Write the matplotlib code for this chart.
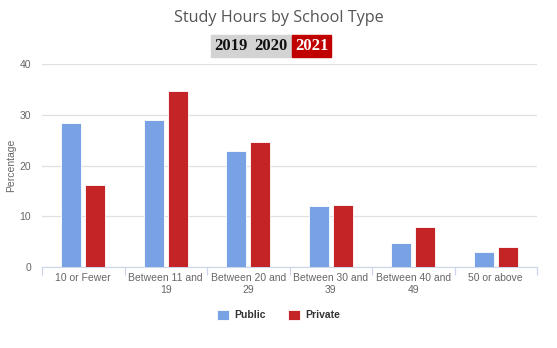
import numpy as np
import matplotlib
matplotlib.use("Agg")
from matplotlib import pyplot as plt
from matplotlib.patches import Rectangle

categories = ["10 or Fewer", "Between 11 and\n19", "Between 20 and\n29",
              "Between 30 and\n39", "Between 40 and\n49", "50 or above"]
public = [28.4, 28.9, 22.8, 12.0, 4.8, 2.9]
private = [16.2, 34.7, 24.6, 12.3, 7.8, 3.9]
years = ["2019", "2020", "2021"]
yticks = [0, 10, 20, 30, 40]

blue = "#78a2e3"
red = "#c42426"

plt.rcParams["font.family"] = ["Liberation Sans", "DejaVu Sans"]

fig = plt.figure(figsize=(5.57, 3.48), dpi=100)
ax = fig.add_axes([42 / 557, 1 - 267 / 348, 495 / 557, 203 / 348])

x = np.arange(len(categories))
w = 0.245
ax.bar(x - 0.145, public, w, color=blue, edgecolor="white", linewidth=0.6, label="Public", zorder=3)
ax.bar(x + 0.145, private, w, color=red, edgecolor="white", linewidth=0.6, label="Private", zorder=3)

ax.set_xlim(-0.5, len(categories) - 0.5)
ax.set_ylim(0, 40)
ax.set_yticks(yticks)
ax.grid(axis="y", color="#e0e0e0", linewidth=0.9, zorder=0)
for s in ["top", "right", "left"]:
    ax.spines[s].set_visible(False)
ax.spines["bottom"].set_color("#ccd6eb")
ax.tick_params(axis="y", length=0, labelsize=7.5, labelcolor="#666666", pad=8)

# category labels centred, ticks on the category boundaries
ax.set_xticks(x)
ax.set_xticklabels(categories, fontsize=7.5, color="#666666", linespacing=1.25)
ax.tick_params(axis="x", length=0, pad=4)
ax.set_xticks(np.arange(-0.5, len(categories)), minor=True)
ax.tick_params(axis="x", which="minor", length=6, color="#ccd6eb", width=0.9)

ax.set_ylabel("Percentage", fontsize=7.5, color="#666666")
ax.yaxis.set_label_coords(-26 / 495, 0.5)

fig.text(0.5, 1 - 18 / 348, "Study Hours by School Type", ha="center", va="center",
         fontsize=11.7, color="#555555", family="Open Sans")

# year selector
fig.patches.append(Rectangle((211 / 557, 1 - 57 / 348), 81 / 557, 22 / 348,
                             transform=fig.transFigure, color="#d3d3d3", zorder=0))
fig.patches.append(Rectangle((292 / 557, 1 - 57 / 348), 39 / 557, 22 / 348,
                             transform=fig.transFigure, color="#c00000", zorder=0))
for xp, yr in zip([231, 271, 311.5], years):
    fig.text(xp / 557, 1 - 46 / 348, yr, ha="center", va="center", fontsize=12,
             fontweight="bold", family="Liberation Serif",
             color="white" if yr == "2021" else "#111111")

leg = fig.legend(loc="center", bbox_to_anchor=(0.5, 1 - 315 / 348), ncol=2, frameon=False,
                 fontsize=7.5, handlelength=1.1, handleheight=1.1, columnspacing=2.2,
                 handletextpad=0.5)
for t in leg.get_texts():
    t.set_color("#333333")
    t.set_fontweight("bold")

fig.savefig("out.png", dpi=100)
